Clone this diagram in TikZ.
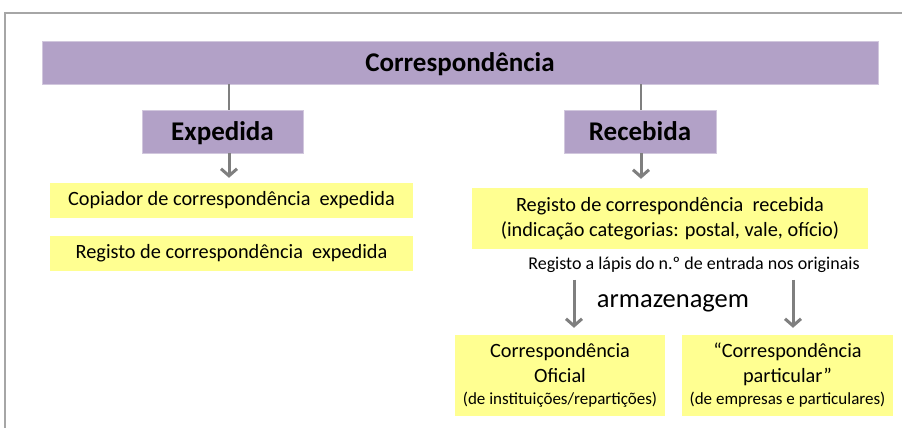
\documentclass[tikz,border=0pt]{standalone}
\usepackage{fontspec}
\setmainfont{Carlito}
\usetikzlibrary{arrows.meta}
\definecolor{lila}{HTML}{B2A1C7}
\definecolor{gelb}{HTML}{FFFF91}
\definecolor{pfeil}{HTML}{7F7F7F}
\definecolor{rahmen}{HTML}{A6A6A6}
\newcommand{\fsA}{\fontsize{27}{31}\selectfont}
\newcommand{\fsB}{\fontsize{20.3}{24.5}\selectfont}
\newcommand{\fsC}{\fontsize{18}{21}\selectfont}
\newcommand{\fsD}{\fontsize{17}{20}\selectfont}
\tikzset{
  x=1pt,y=1pt,
  purplebox/.style={fill=lila,draw=lila!60!white,line width=0.6pt,inner sep=0pt,align=center,font=\fsA\bfseries,text height=18pt,text depth=0.6pt},
  yellowbox/.style={fill=gelb,draw=none,inner sep=0pt,align=center,font=\fsB},
  thinline/.style={draw=pfeil,line width=1.6pt},
  arr/.style={draw=pfeil,line width=3pt,-{Straight Barb[length=7pt,width=16pt,line width=3pt]}},
}
\begin{document}
\begin{tikzpicture}
\useasboundingbox (0,0) rectangle (902,-428);
\fill[white] (0,0) rectangle (902,-428);
% frame
\draw[rahmen,line width=1.8pt] (5,-428) -- (5,-13) -- (902,-13);
% nodes
\node[purplebox,minimum width=836,minimum height=43] (title) at (460,-62.5) {Correspondência};
\node[purplebox,minimum width=161,minimum height=43] (exp) at (222.5,-131.5) {Expedida};
\node[purplebox,minimum width=152,minimum height=43] (rec) at (640,-131.5) {Recebida};
\node[yellowbox,minimum width=363,minimum height=35] (cop) at (231.5,-200.5) {Copiador de correspondência\ \ expedida};
\node[yellowbox,minimum width=363,minimum height=35] (regexp) at (231.5,-253.5) {Registo de correspondência\ \ expedida};
\node[yellowbox,minimum width=396,minimum height=61] (regrec) at (670,-218.5) {Registo de correspondência\ \ recebida\\(indicação categorias: postal, vale, ofício)};
\node[inner sep=0pt,font=\fsC] (lapis) at (694,-265) {Registo a lápis do n.º de entrada nos originais};
\node[inner sep=0pt,font=\fontsize{26.5}{30}\selectfont] (armaz) at (673,-303) {armazenagem};
\node[yellowbox,minimum width=210,minimum height=81] (ofi) at (560,-375.5) {Correspondência\\Oficial\\[-2pt]{\fsD (de instituições/repartições)}};
\node[yellowbox,minimum width=211,minimum height=81] (part) at (787.5,-375.5) {“Correspondência\\particular”\\[-2pt]{\fsD (de empresas e particulares)}};
% connectors
\draw[thinline] (title.south -| 229,0) -- (exp.north -| 229,0);
\draw[thinline] (title.south -| 641,0) -- (rec.north -| 641,0);
\draw[arr] (exp.south -| 229,0) -- ([yshift=5]cop.north -| 229,0);
\draw[arr] (rec.south -| 641,0) -- ([yshift=9]regrec.north -| 641,0);
\draw[arr] ([yshift=-7]lapis.south -| 574,0) -- ([yshift=7]ofi.north -| 574,0);
\draw[arr] ([yshift=-7]lapis.south -| 793,0) -- ([yshift=7]part.north -| 793,0);
\end{tikzpicture}
\end{document}
